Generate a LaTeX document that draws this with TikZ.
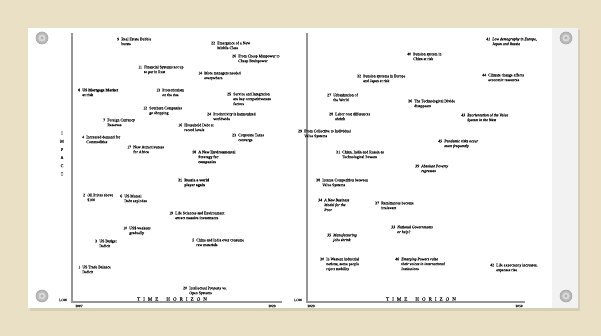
\documentclass[tikz,border=0pt]{standalone}
\usepackage{fontspec}
\setmainfont{Liberation Serif}
\definecolor{canvas}{RGB}{234,224,198}
\definecolor{paperedge}{RGB}{242,242,242}
\definecolor{axisgray}{RGB}{150,150,150}
\definecolor{ink}{RGB}{20,20,20}
\newcommand\evfont{\fontsize{3.9}{4.9}\selectfont\addfontfeature{FakeBold=0.15}}
\tikzset{
  evt/.style={anchor=base west, inner sep=0pt, font=\evfont, text=ink},
  evb/.style={evt, font=\evfont\bfseries},
  evi/.style={evt, font=\evfont\itshape},
  axisline/.style={draw=axisgray, line width=1.1pt},
  axlabel/.style={inner sep=0pt, font=\fontsize{3.6}{4}\selectfont\addfontfeature{FakeBold=0.15}, text=ink},
  horizon/.style={inner sep=0pt, font=\fontsize{5}{6}\selectfont\addfontfeature{FakeBold=0.15}, text=ink},
  screw/.style={fill=gray!55, draw=gray!70, line width=0.6pt},
}
% one event: [style] name, x, y (first line), number, text lines
\newcommand\ev[6][evt]{%
  \node[#1] (#2) at (#3,#4+1.3)
    {\begin{tabular}[t]{@{}l@{\hspace{2.2pt}}l@{}}#5 & #6\end{tabular}};}
\newcommand\horizontext{T\kern3pt I\kern3pt M\kern3pt E\kern8pt H\kern3pt O\kern3pt R\kern3pt I\kern3pt Z\kern3pt O\kern3pt N}
\begin{document}
\begin{tikzpicture}[x=1pt,y=-1pt]
\useasboundingbox (0,0) rectangle (601,336);
% board and mounted sheet
\fill[canvas] (0,0) rectangle (601,336);
\fill[black,opacity=0.08] (30,30) rectangle (580,311);
\fill[white] (28,28) rectangle (578,308);
\fill[paperedge] (552,28) rectangle (578,308);
% corner screws
\foreach \sx/\sy [count=\i] in {42/38, 42/296, 566/38, 566/296}{
  \coordinate (screw\i) at (\sx,\sy);
  \fill[screw] (screw\i) circle (6);
  \fill[gray!30] (screw\i) circle (3.6);
  \fill[gray!60] (screw\i) circle (1.6);
}

% ---------- left chart: 2007 - 2029 ----------
\coordinate (Ltop) at (72,33);
\coordinate (Lorig) at (72,302);
\coordinate (Lend) at (282,302);
\draw[axisline] (Ltop) -- (Lorig) -- (Lend);
\node[axlabel] (Llow) at (63,300) {LOW};
\node[axlabel] (Lstart) at (79,306) {2007};
\node[axlabel] (Lfinish) at (272,306) {2029};
\node[horizon] (Lhorizon) at (172,299) {\horizontext};
\node[axlabel, font=\fontsize{4.2}{8.2}\selectfont\addfontfeature{FakeBold=0.15}, align=center] (Limpact) at (62,153.5)
  {I\\M\\P\\A\\C\\T};

\ev{L9}{117}{39}{9}{Real Estate Bubble\\ & bursts}
\ev{L22}{211}{43}{22}{Emergence of a New\\ & Middle Class}
\ev{L26}{232}{56}{26}{From Cheap Manpower to\\ & Cheap Brainpower}
\ev{L11}{138}{67}{11}{Financial Systems not up\\ & to par in Rust}
\ev{L14}{198}{73}{14}{More managers needed\\ & everywhere}
\ev[evb]{L8}{78}{90}{8}{US Mortgage Market\\ & at risk}
\ev{L13}{156}{90}{13}{Protectionism\\ & on the rise}
\ev{L25}{227}{94}{25}{Service and Integration\\ & are key competitiveness\\ & factors}
\ev{L12}{143}{108}{12}{Southern Companies\\ & go shopping}
\ev{L24}{207}{114}{24}{Productivity is harmonized\\ & worldwide}
\ev{L7}{103}{120}{7}{Foreign Currency\\ & Reserves}
\ev{L16}{178}{125}{16}{Household Debt at\\ & record levels}
\ev{L23}{232}{135}{23}{Corporate Taxes\\ & converge}
\ev{L4}{82}{137}{4}{Increased demand for\\ & Commodities}
\ev{L17}{127}{147}{17}{New Attractiveness\\ & for Africa}
\ev[evb]{L18}{192}{152}{18}{A New Environmental\\ & Strategy for\\ & companies}
\ev[evb]{L21}{178}{180}{21}{Russia a world\\ & player again}
\ev{L2}{83}{195}{2}{Oil Prices above\\ & \$100}
\ev{L6}{120}{196}{6}{US Mutual\\ & Debt explodes}
\ev{L19}{169}{213}{19}{Life Sciences and Environment\\ & attract massive investments}
\ev{L10}{123}{228}{10}{US\$ weakens\\ & gradually}
\ev{L5}{192}{240}{5}{China and India over consume\\ & raw materials}
\ev{L3}{95}{241}{3}{US Budget\\ & Deficit}
\ev{L1}{78}{267}{1}{US Trade Balance\\ & Deficit}
\ev{L20}{183}{288}{20}{Intellectual Property vs.\\ & Open Systems}

% ---------- right chart: 2029 - 2050 ----------
\coordinate (Rtop) at (307,33);
\coordinate (Rorig) at (307,302);
\coordinate (Rend) at (525,302);
\draw[axisline] (Rtop) -- (Rorig) -- (Rend);
\node[axlabel] (Rlow) at (298,300) {LOW};
\node[axlabel] (Rstart) at (311,306) {2029};
\node[axlabel] (Rfinish) at (519,306) {2050};
\node[horizon] (Rhorizon) at (421,299) {\horizontext};

\ev[evi]{R41}{486}{39}{41}{Low demography in Europe,\\ & Japan and Russia}
\ev{R40}{407}{54}{40}{Pension system in\\ & China at risk}
\ev{R32}{357}{76}{32}{Pension systems in Europe\\ & and Japan at risk}
\ev{R44}{482}{75}{44}{Climate change affects\\ & economic resources}
\ev{R27}{327}{95}{27}{Urbanization of\\ & the World}
\ev{R36}{408}{101}{36}{The Technological Divide\\ & disappears}
\ev{R28}{329}{114}{28}{Labor cost differences\\ & shrink}
\ev[evi]{R43}{461}{115}{43}{Reorientation of the Value\\ & System in the West}
\ev{R29}{298}{131}{29}{From Collective to Individual\\ & Value Systems}
\ev[evi]{R45}{438}{141}{45}{Pandemic risks occur\\ & more frequently}
\ev{R31}{336}{152}{31}{China, India and Russia as\\ & Technological Powers}
\ev[evi]{R39}{415}{166}{39}{Absolute Poverty\\ & regresses}
\ev{R38}{316}{180}{38}{Intense Competition between\\ & Value Systems}
\ev[evi]{R34}{318}{200}{34}{A New Business\\ & Model for the\\ & Poor}
\ev{R37}{375}{203}{37}{Remittances become\\ & irrelevant}
\ev[evi]{R33}{391}{227}{33}{National Governments\\ & or help?}
\ev[evi]{R35}{327}{235}{35}{Manufacturing\\ & jobs shrink}
\ev{R30}{320}{259}{30}{In Western industrial\\ & nations, some people\\ & reject mobility}
\ev[evi]{R46}{395}{259}{46}{Emerging Powers raise\\ & their voices in international\\ & Institutions}
\ev{R42}{490}{265}{42}{Life expectancy increases,\\ & expenses rise}
\end{tikzpicture}
\end{document}
